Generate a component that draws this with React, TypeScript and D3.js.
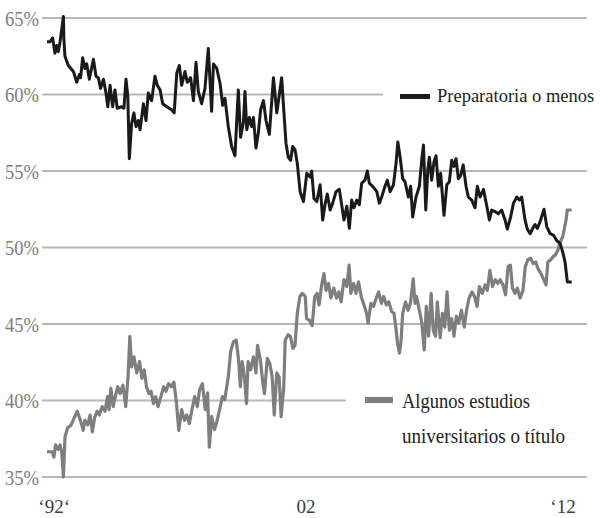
import React from "react";
import * as d3 from "d3";

const yTicks = [35, 40, 45, 50, 55, 60, 65];
const xTickLabels = ["‘92‘", "02", "‘12"];
const xTickYears = [1992.28, 2002.1, 2012.12];

const seriesNames = ["Preparatoria o menos", "Algunos estudios universitarios o título"];

// [decimal year, percent]
const prepData: [number, number][] = [
  [1992.0, 63.45], [1992.12, 63.45], [1992.22, 63.7], [1992.31, 62.7], [1992.38, 63.2], [1992.44, 62.8],
  [1992.51, 63.45], [1992.57, 64.2], [1992.64, 65.1], [1992.66, 63.6], [1992.7, 62.5], [1992.83, 61.9],
  [1993.03, 61.5], [1993.16, 60.8], [1993.26, 61.3], [1993.31, 61.1], [1993.39, 62.4], [1993.48, 61.7],
  [1993.55, 62.0], [1993.65, 61.0], [1993.81, 62.3], [1993.91, 61.2], [1994.0, 61.1], [1994.09, 60.4],
  [1994.2, 61.0], [1994.3, 60.1], [1994.37, 59.2], [1994.46, 60.6], [1994.56, 59.2], [1994.65, 60.3],
  [1994.74, 59.1], [1994.91, 59.2], [1995.0, 59.1], [1995.08, 61.0], [1995.15, 59.9], [1995.21, 55.8],
  [1995.3, 58.1], [1995.39, 58.8], [1995.47, 57.9], [1995.56, 58.3], [1995.63, 57.7], [1995.76, 59.4],
  [1995.86, 58.3], [1995.95, 60.1], [1996.08, 59.6], [1996.21, 61.2], [1996.3, 60.6], [1996.41, 60.3],
  [1996.51, 59.4], [1996.67, 59.2], [1996.86, 59.0], [1996.96, 58.8], [1997.06, 61.4], [1997.16, 61.9],
  [1997.25, 60.6], [1997.38, 61.5], [1997.47, 60.8], [1997.6, 61.1], [1997.71, 59.6], [1997.81, 62.1],
  [1997.9, 60.2], [1998.03, 59.4], [1998.16, 60.4], [1998.29, 63.0], [1998.42, 58.9], [1998.49, 62.0],
  [1998.62, 61.7], [1998.75, 60.7], [1998.85, 59.3], [1998.94, 59.75], [1999.07, 57.9], [1999.2, 56.6],
  [1999.33, 56.0], [1999.46, 60.3], [1999.55, 57.2], [1999.66, 58.2], [1999.72, 60.2], [1999.79, 57.7],
  [1999.89, 58.5], [1999.98, 57.9], [2000.05, 58.5], [2000.15, 56.5], [2000.24, 57.5], [2000.33, 59.0],
  [2000.44, 59.6], [2000.54, 58.3], [2000.67, 57.4], [2000.83, 61.1], [2000.96, 58.8], [2001.06, 60.0],
  [2001.15, 61.1], [2001.24, 58.8], [2001.32, 56.8], [2001.41, 55.9], [2001.5, 55.7], [2001.58, 56.6],
  [2001.67, 56.4], [2001.76, 55.5], [2001.87, 53.65], [2002.0, 53.0], [2002.13, 54.85], [2002.26, 54.6],
  [2002.32, 55.0], [2002.41, 53.2], [2002.52, 53.0], [2002.65, 54.1], [2002.75, 51.8], [2002.84, 52.8],
  [2002.93, 53.5], [2003.04, 52.45], [2003.14, 52.9], [2003.27, 53.65], [2003.4, 53.8], [2003.49, 52.8],
  [2003.58, 51.8], [2003.69, 52.7], [2003.79, 51.25], [2003.88, 53.1], [2003.97, 52.6], [2004.08, 53.1],
  [2004.18, 52.8], [2004.27, 54.2], [2004.4, 54.4], [2004.49, 55.0], [2004.57, 54.2], [2004.7, 54.0],
  [2004.86, 53.65], [2004.96, 52.9], [2005.05, 53.3], [2005.18, 54.0], [2005.27, 54.4], [2005.38, 53.65],
  [2005.51, 54.1], [2005.61, 55.5], [2005.68, 56.9], [2005.77, 55.9], [2005.87, 54.5], [2005.96, 54.3],
  [2006.09, 53.3], [2006.18, 54.0], [2006.26, 52.0], [2006.39, 53.3], [2006.52, 54.0], [2006.61, 55.7],
  [2006.68, 56.7], [2006.77, 52.45], [2006.85, 55.1], [2006.91, 55.9], [2007.0, 54.4], [2007.09, 55.6],
  [2007.17, 56.0], [2007.26, 54.0], [2007.35, 54.85], [2007.48, 52.1], [2007.59, 54.1], [2007.69, 54.3],
  [2007.78, 55.7], [2007.87, 55.3], [2007.95, 55.8], [2008.04, 54.5], [2008.13, 54.7], [2008.23, 55.4],
  [2008.34, 54.0], [2008.43, 53.3], [2008.56, 53.1], [2008.69, 52.6], [2008.78, 54.0], [2008.89, 53.3],
  [2009.02, 53.8], [2009.15, 52.7], [2009.25, 51.8], [2009.34, 52.45], [2009.47, 52.35], [2009.6, 52.2],
  [2009.73, 52.45], [2009.86, 51.8], [2009.95, 51.2], [2010.08, 52.0], [2010.19, 52.9], [2010.32, 53.3],
  [2010.42, 53.1], [2010.51, 53.3], [2010.64, 51.8], [2010.73, 51.2], [2010.84, 50.9], [2010.94, 51.25],
  [2011.03, 51.5], [2011.12, 51.25], [2011.23, 51.7], [2011.38, 52.5], [2011.49, 51.35], [2011.62, 50.9],
  [2011.75, 50.8], [2011.88, 50.45], [2012.01, 50.25], [2012.11, 49.7], [2012.2, 49.05], [2012.29, 47.75],
  [2012.46, 47.75],
];

const collegeData: [number, number][] = [
  [1992.0, 36.65], [1992.2, 36.65], [1992.27, 36.3], [1992.33, 37.1], [1992.43, 36.8], [1992.51, 37.1],
  [1992.58, 36.55], [1992.64, 35.0], [1992.7, 37.6], [1992.8, 38.2], [1992.94, 38.4], [1993.07, 38.9],
  [1993.18, 39.3], [1993.28, 38.8], [1993.34, 38.5], [1993.41, 38.05], [1993.48, 38.7], [1993.59, 38.4],
  [1993.68, 39.05], [1993.77, 37.95], [1993.86, 38.9], [1993.95, 39.3], [1994.04, 39.05], [1994.15, 39.6],
  [1994.26, 39.3], [1994.36, 40.25], [1994.42, 39.4], [1994.49, 40.8], [1994.58, 39.6], [1994.66, 40.25],
  [1994.76, 40.9], [1994.85, 40.45], [1994.96, 41.0], [1995.07, 39.6], [1995.16, 41.55], [1995.23, 44.2],
  [1995.3, 42.2], [1995.39, 42.85], [1995.5, 41.8], [1995.61, 42.55], [1995.7, 41.45], [1995.79, 42.0],
  [1995.88, 40.9], [1995.97, 40.45], [1996.06, 40.6], [1996.15, 39.8], [1996.24, 40.25], [1996.33, 39.6],
  [1996.44, 40.25], [1996.55, 40.9], [1996.64, 40.6], [1996.74, 41.1], [1996.85, 40.9], [1996.95, 41.2],
  [1997.05, 39.8], [1997.14, 38.05], [1997.25, 39.4], [1997.36, 38.7], [1997.45, 39.05], [1997.55, 38.5],
  [1997.65, 39.4], [1997.76, 40.25], [1997.86, 39.6], [1997.95, 40.7], [1998.06, 41.1], [1998.17, 39.4],
  [1998.26, 40.5], [1998.33, 36.95], [1998.42, 38.95], [1998.53, 38.1], [1998.62, 38.6], [1998.73, 39.4],
  [1998.84, 40.25], [1998.93, 40.05], [1999.07, 41.55], [1999.16, 43.2], [1999.27, 43.85], [1999.38, 43.95],
  [1999.47, 42.65], [1999.54, 40.9], [1999.61, 42.55], [1999.7, 41.55], [1999.78, 39.8], [1999.84, 42.55],
  [1999.94, 42.0], [2000.05, 42.85], [2000.15, 41.8], [2000.21, 43.6], [2000.32, 42.65], [2000.42, 41.1],
  [2000.48, 40.45], [2000.59, 42.75], [2000.69, 42.4], [2000.78, 41.55], [2000.86, 39.05], [2000.96, 41.8],
  [2001.05, 41.55], [2001.13, 38.95], [2001.23, 40.8], [2001.29, 43.95], [2001.4, 44.3], [2001.49, 44.2],
  [2001.59, 43.4], [2001.67, 43.6], [2001.76, 45.7], [2001.86, 46.8], [2001.96, 47.0], [2002.07, 46.8],
  [2002.12, 45.35], [2002.23, 45.25], [2002.34, 44.9], [2002.44, 46.8], [2002.53, 47.0], [2002.61, 46.25],
  [2002.71, 47.55], [2002.8, 48.3], [2002.88, 47.2], [2002.98, 47.65], [2003.07, 46.7], [2003.18, 47.35],
  [2003.29, 46.7], [2003.38, 47.1], [2003.47, 46.45], [2003.58, 47.9], [2003.69, 47.45], [2003.78, 48.85],
  [2003.85, 47.0], [2003.96, 47.65], [2004.05, 47.0], [2004.15, 47.75], [2004.25, 46.8], [2004.36, 46.25],
  [2004.46, 45.7], [2004.52, 45.05], [2004.63, 46.35], [2004.73, 46.15], [2004.82, 46.6], [2004.93, 47.1],
  [2005.04, 46.35], [2005.13, 46.8], [2005.23, 46.25], [2005.33, 46.45], [2005.44, 45.8], [2005.53, 45.7],
  [2005.6, 44.8], [2005.67, 43.75], [2005.74, 43.1], [2005.8, 43.75], [2005.87, 45.7], [2005.98, 46.45],
  [2006.08, 45.9], [2006.17, 46.35], [2006.28, 47.95], [2006.35, 46.35], [2006.41, 46.8], [2006.52, 45.9],
  [2006.61, 45.15], [2006.71, 43.3], [2006.79, 46.15], [2006.88, 44.2], [2006.98, 47.0], [2007.06, 44.6],
  [2007.15, 44.2], [2007.22, 46.45], [2007.33, 44.1], [2007.42, 45.7], [2007.51, 44.8], [2007.6, 47.1],
  [2007.69, 44.6], [2007.78, 45.35], [2007.87, 44.2], [2007.96, 45.5], [2008.05, 45.05], [2008.16, 45.9],
  [2008.27, 44.8], [2008.36, 45.9], [2008.46, 46.7], [2008.57, 47.1], [2008.67, 46.8], [2008.77, 46.15],
  [2008.86, 47.45], [2008.97, 47.0], [2009.08, 47.55], [2009.17, 47.2], [2009.27, 48.5], [2009.37, 47.45],
  [2009.48, 47.9], [2009.58, 47.65], [2009.67, 47.9], [2009.78, 47.55], [2009.88, 46.9], [2009.98, 48.75],
  [2010.07, 48.85], [2010.15, 47.35], [2010.25, 47.0], [2010.34, 47.35], [2010.45, 46.7], [2010.56, 47.2],
  [2010.65, 48.75], [2010.75, 49.2], [2010.86, 49.3], [2010.96, 48.95], [2011.06, 49.05], [2011.15, 48.6],
  [2011.26, 48.3], [2011.37, 47.9], [2011.46, 47.55], [2011.53, 49.05], [2011.64, 49.2], [2011.73, 49.4],
  [2011.82, 49.5], [2011.93, 49.85], [2012.0, 50.3], [2012.11, 50.7], [2012.24, 51.8], [2012.29, 52.45],
  [2012.46, 52.45],
];

const W = 600;
const H = 518;
const FONT = "'Liberation Serif', 'DejaVu Serif', serif";

export default function App() {
  const x = d3.scaleLinear().domain([1992, 2012.46]).range([47, 571.7]);
  const y = d3.scaleLinear().domain([35, 65]).range([477, 18]);
  const line = d3
    .line<[number, number]>()
    .x((d) => x(d[0]))
    .y((d) => y(d[1]))
    .curve(d3.curveLinear);

  const gridX0 = 42;
  const gridX1 = 587;
  const gridEnd = (v: number) => (v === 60 ? 383 : v === 40 ? 346 : gridX1);

  return (
    <svg
      width={W}
      height={H}
      style={{ position: "absolute", left: 0, top: 0, background: "#fff" }}
    >
      <rect width={W} height={H} fill="#fff" />
      {yTicks.map((v) => (
        <g key={v}>
          <line
            x1={gridX0}
            x2={gridEnd(v)}
            y1={y(v)}
            y2={y(v)}
            stroke="#b8b8b8"
            strokeWidth={2.2}
          />
          <text
            x={39}
            y={y(v) + 7.5}
            textAnchor="end"
            fontFamily={FONT}
            fontSize={21}
            fill="#7d7d7d"
            textLength={34}
            lengthAdjust="spacingAndGlyphs"
          >
            {`${v}%`}
          </text>
        </g>
      ))}
      {xTickLabels.map((t, i) => (
        <text
          key={t}
          x={x(xTickYears[i])}
          y={513}
          textAnchor="middle"
          fontFamily={FONT}
          fontSize={19}
          fill="#3a3a3a"
        >
          {t}
        </text>
      ))}
      <path
        d={line(collegeData) || ""}
        fill="none"
        stroke="#7e7e7e"
        strokeWidth={3.2}
        strokeLinejoin="round"
      />
      <path
        d={line(prepData) || ""}
        fill="none"
        stroke="#1a1a1a"
        strokeWidth={3}
        strokeLinejoin="round"
      />
      {/* legend */}
      <rect x={400} y={94} width={30} height={5} fill="#1a1a1a" />
      <text x={437} y={102} fontFamily={FONT} fontSize={18.5} fill="#222">
        {seriesNames[0]}
      </text>
      <rect x={365} y={397} width={28} height={6} fill="#7e7e7e" />
      <text
        x={402}
        y={408}
        fontFamily={FONT}
        fontSize={20}
        fill="#222"
        textLength={128}
        lengthAdjust="spacingAndGlyphs"
      >
        Algunos estudios
      </text>
      <text
        x={402}
        y={443}
        fontFamily={FONT}
        fontSize={20}
        fill="#222"
        textLength={163}
        lengthAdjust="spacingAndGlyphs"
      >
        universitarios o título
      </text>
    </svg>
  );
}
